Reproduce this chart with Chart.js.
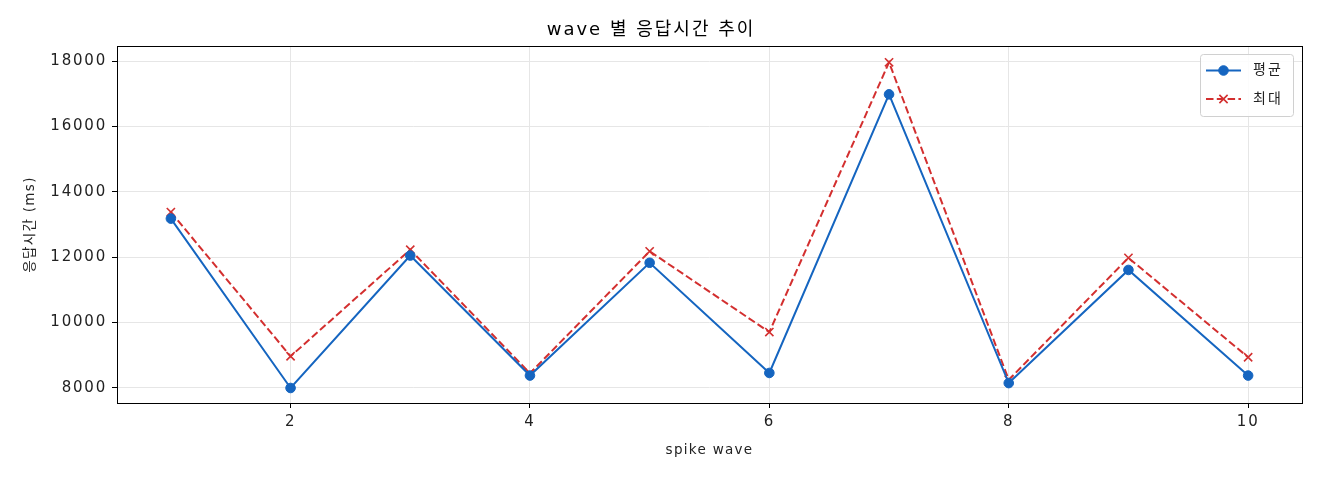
<!DOCTYPE html>
<html>
<head>
<meta charset="utf-8">
<script src="https://cdn.jsdelivr.net/npm/chart.js@4/dist/chart.umd.min.js"></script>
<style>
  html, body { margin: 0; padding: 0; background: #fff; }
  #wrap { width: 1320px; height: 480px; }
</style>
</head>
<body>
<div id="wrap"><canvas id="myChart" width="1320" height="480"></canvas></div>
<script>
// data
const waves     = [1, 2, 3, 4, 5, 6, 7, 8, 9, 10];
const avg_ms    = [13180, 8000, 12050, 8380, 11830, 8460, 16980, 8150, 11610, 8380];
const max_ms    = [13380, 8970, 12230, 8450, 12180, 9710, 17960, 8250, 11980, 8940];
const x_ticks   = [2, 4, 6, 8, 10];
const y_ticks   = [8000, 10000, 12000, 14000, 16000, 18000];

const FONT      = "'DejaVu Sans', 'Noto Sans CJK KR', sans-serif";
const BLUE      = "#1565c0";
const RED       = "#d32f2f";

// the reference font is wide, so spread the letters a bit (by font size)
const SPACING   = { 18: "2px", 15: "1.8px", 14: "2px", 13.5: "1.3px" };

function toPoints(values)
{
    let pts = [];
    for (let i = 0; i < waves.length; i++)
    {
        pts.push({ x: waves[i], y: values[i] });
    }
    return pts;
}

const ctx = document.getElementById("myChart").getContext("2d");
const rawFillText = ctx.fillText;
ctx.fillText = function (text, x, y, maxWidth)
{
    const m = this.font.match(/([\d.]+)px/);
    this.letterSpacing = (m && SPACING[parseFloat(m[1])]) || "0px";
    if (maxWidth === undefined) return rawFillText.call(this, text, x, y);
    return rawFillText.call(this, text, x, y, maxWidth);
};

// black frame round the plot area, like matplotlib's spines
const framePlugin = {
    id: "frame",
    afterDraw(chart) {
        const a   = chart.chartArea;
        const c   = chart.ctx;
        c.save();
        c.strokeStyle = "#000";
        c.lineWidth = 1;
        c.strokeRect(Math.round(a.left) + 0.5, Math.round(a.top) + 0.5,
                     Math.round(a.right - a.left), Math.round(a.bottom - a.top));
        c.restore();
    }
};

// matplotlib style legend box in the upper right
const legendPlugin = {
    id: "mplLegend",
    afterDatasetsDraw(chart) {
        const c = chart.ctx;
        const a = chart.chartArea;
        const w = 93, h = 62;
        const x0 = a.right - 9 - w;
        const y0 = a.top + 8;
        c.save();
        c.beginPath();
        c.roundRect(x0 + 0.5, y0 + 0.5, w, h, 3);
        c.fillStyle = "rgba(255,255,255,0.85)";
        c.fill();
        c.strokeStyle = "#d0d0d0";
        c.lineWidth = 1;
        c.stroke();

        chart.data.datasets.forEach(function (ds, i) {
            const cy = y0 + 16.5 + i * 28.5;
            c.beginPath();
            c.setLineDash(ds.borderDash || []);
            c.strokeStyle = ds.borderColor;
            c.lineWidth = ds.borderWidth;
            c.moveTo(x0 + 6, cy);
            c.lineTo(x0 + 41, cy);
            c.stroke();
            c.setLineDash([]);
            c.fillStyle = ds.pointBackgroundColor;
            c.strokeStyle = ds.pointBorderColor;
            c.lineWidth = ds.pointBorderWidth;
            Chart.helpers.drawPoint(c, {
                pointStyle: ds.pointStyle,
                radius: ds.pointRadius,
                borderWidth: ds.pointBorderWidth
            }, x0 + 23.5, cy);
            c.fillStyle = "#222";
            c.font = "14px " + FONT;
            c.textBaseline = "middle";
            c.textAlign = "left";
            c.fillText(ds.label, x0 + 53, cy);
        });
        c.restore();
    }
};

const myChart = new Chart(ctx, {
    type: "line",
    data: {
        datasets: [
            {
                label: "평균",
                data: toPoints(avg_ms),
                borderColor: BLUE,
                backgroundColor: BLUE,
                borderWidth: 2,
                pointStyle: "circle",
                pointRadius: 4.8,
                pointBorderWidth: 1,
                pointBackgroundColor: BLUE,
                pointBorderColor: BLUE,
                tension: 0
            },
            {
                label: "최대",
                data: toPoints(max_ms),
                borderColor: RED,
                backgroundColor: RED,
                borderWidth: 2,
                borderDash: [7.5, 3.3],
                pointStyle: "crossRot",
                pointRadius: 5.8,
                pointBorderWidth: 1.6,
                pointBackgroundColor: RED,
                pointBorderColor: RED,
                tension: 0
            }
        ]
    },
    options: {
        responsive: false,
        animation: false,
        devicePixelRatio: 1,
        layout: { padding: { left: 0, right: 18, top: 0, bottom: 0 } },
        plugins: {
            legend: { display: false },
            tooltip: { enabled: false },
            title: {
                display: true,
                text: "wave 별 응답시간 추이",
                color: "#000",
                font: { family: FONT, size: 18, weight: "normal" },
                padding: { top: 19.5, bottom: 4.9 }
            }
        },
        scales: {
            x: {
                type: "linear",
                min: 0.55,
                max: 10.45,
                afterBuildTicks: function (scale) {
                    scale.ticks = x_ticks.map(v => ({ value: v }));
                },
                afterFit: function (scale) { scale.height = 77; },
                border: { display: false },
                grid: { color: "#e6e6e6", lineWidth: 1, tickColor: "#000", tickLength: 5 },
                ticks: {
                    color: "#222",
                    padding: 5,
                    maxRotation: 0,
                    font: { family: FONT, size: 15 }
                },
                title: {
                    display: true,
                    text: "spike wave",
                    color: "#222",
                    font: { family: FONT, size: 13.5 },
                    padding: { top: 0, bottom: 21 }
                }
            },
            y: {
                min: 7541,
                max: 18459,
                afterBuildTicks: function (scale) {
                    scale.ticks = y_ticks.map(v => ({ value: v }));
                },
                afterFit: function (scale) { scale.width = 117; },
                border: { display: false },
                grid: { color: "#e6e6e6", lineWidth: 1, tickColor: "#000", tickLength: 5 },
                ticks: {
                    color: "#222",
                    padding: 5,
                    font: { family: FONT, size: 15 },
                    callback: function (v) { return String(v); }
                },
                title: {
                    display: true,
                    text: "응답시간 (ms)",
                    color: "#222",
                    font: { family: FONT, size: 13.5 },
                    padding: { top: 22, bottom: 0 }
                }
            }
        }
    },
    plugins: [legendPlugin, framePlugin]
});
</script>
</body>
</html>
